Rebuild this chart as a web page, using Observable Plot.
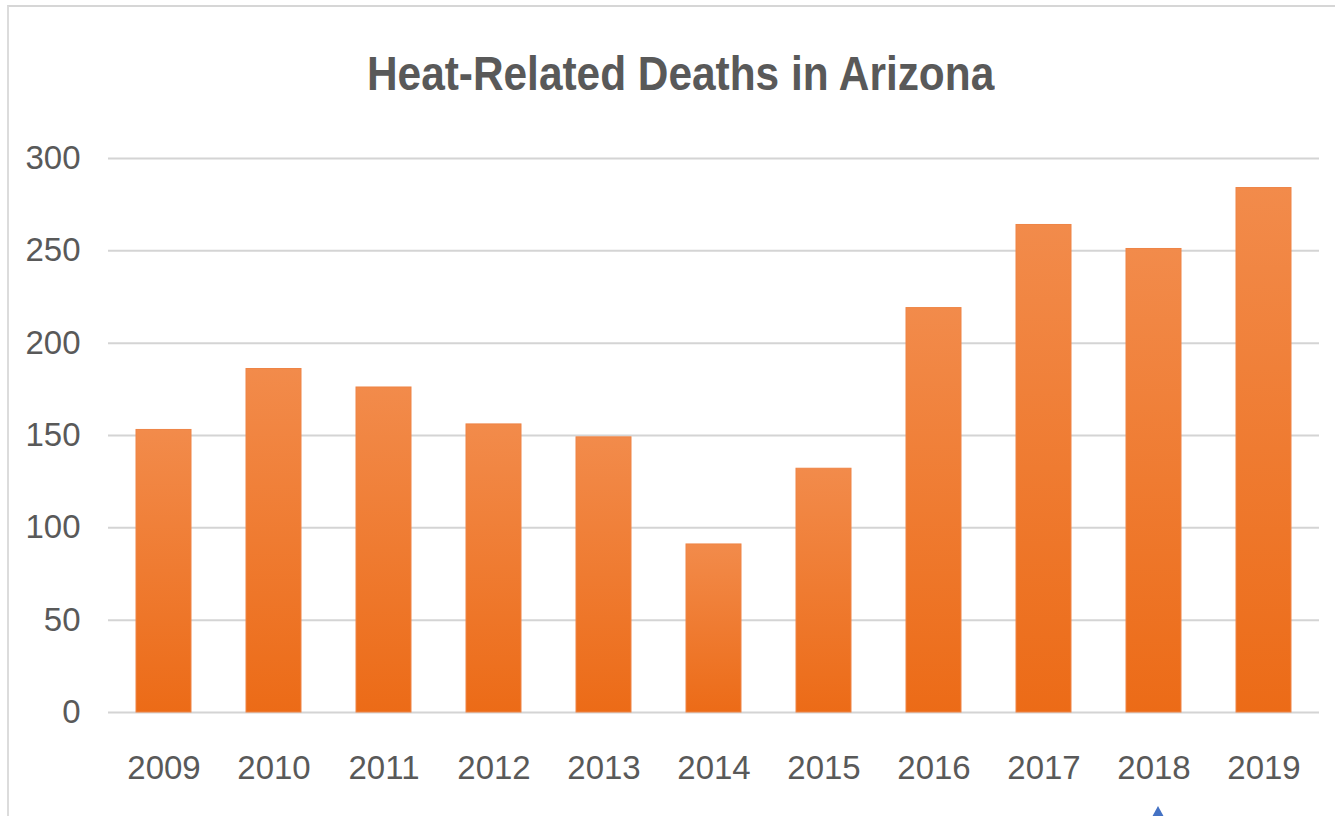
<!DOCTYPE html>
<html>
<head>
<meta charset="utf-8">
<script src="https://cdn.jsdelivr.net/npm/d3@7"></script>
<script src="https://cdn.jsdelivr.net/npm/@observablehq/plot@0.6"></script>
<style>
  html, body { margin: 0; padding: 0; background: #fff; }
  #page { position: relative; width: 1335px; height: 816px; overflow: hidden; }
  #frame { position: absolute; left: 7px; top: 5px; right: 0; bottom: 0;
           border-top: 2px solid #d6d6d6; border-left: 2px solid #dcdcdc; pointer-events: none; }
  #title { box-sizing: border-box; width: 1335px; height: 130px; padding-left: 26px; padding-top: 45px;
           text-align: center; line-height: 56px; }
  #title span { display: inline-block; transform: scaleX(0.865); transform-origin: center;
                color: #595959; font-weight: bold; font-size: 49px;
                font-family: "Liberation Sans", Arial, sans-serif; white-space: nowrap; }
  #pointer { position: absolute; left: 1152px; top: 806px; width: 0; height: 0;
             border-left: 6px solid transparent; border-right: 6px solid transparent;
             border-bottom: 11px solid #4472c4; }
</style>
</head>
<body>
<div id="page">
  <div id="frame"></div>
  <div id="title"><span>Heat-Related Deaths in Arizona</span></div>
  <div id="chart"></div>
  <div id="pointer"></div>
</div>
<script>
// Heat-related deaths per year
const years = ["2009", "2010", "2011", "2012", "2013", "2014", "2015", "2016", "2017", "2018", "2019"];
const deaths = [153, 186, 176, 156, 149, 91, 132, 219, 264, 251, 284];
const yTicks = [0, 50, 100, 150, 200, 250, 300];

const data = years.map((year, i) => ({year, deaths: deaths[i]}));

const chart = Plot.plot({
  width: 1335,
  height: 686,
  marginTop: 28,
  marginBottom: 104,
  marginLeft: 108,
  marginRight: 16,
  style: {fontFamily: "'Liberation Sans', Arial, sans-serif", fontSize: "33px", color: "#595959", background: "white"},
  x: {domain: years, paddingInner: 0.5, paddingOuter: 0.25, label: null},
  y: {domain: [0, 300], label: null},
  marks: [
    Plot.gridY(yTicks, {stroke: "#d4d4d4", strokeOpacity: 1, strokeWidth: 2}),
    Plot.barY(data, {x: "year", y: "deaths", fill: "url(#barFill)", stroke: "#ee8446", strokeWidth: 1}),
    Plot.axisY(yTicks, {tickSize: 0, tickPadding: 28, label: null, fill: "#595959"}),
    Plot.axisX({tickSize: 0, tickPadding: 43, label: null, fill: "#595959"})
  ]
});

// vertical orange gradient used by each bar
const defs = d3.select(chart).insert("defs", ":first-child");
const grad = defs.append("linearGradient")
  .attr("id", "barFill").attr("x1", 0).attr("y1", 0).attr("x2", 0).attr("y2", 1);
grad.append("stop").attr("offset", "0%").attr("stop-color", "#f28b4b");
grad.append("stop").attr("offset", "100%").attr("stop-color", "#ec6b17");

document.getElementById("chart").appendChild(chart);
</script>
</body>
</html>
